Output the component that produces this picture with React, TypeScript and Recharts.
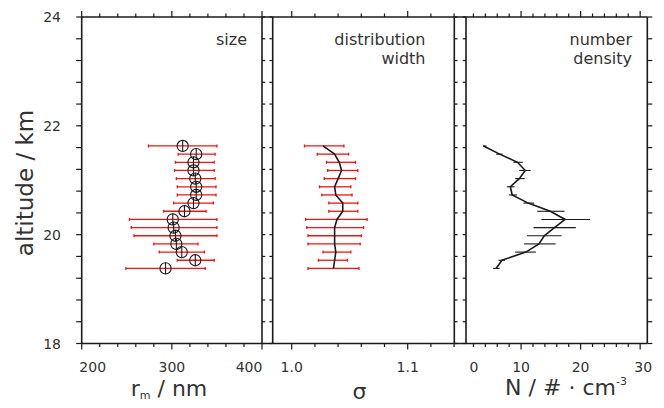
import React from "react";
import { ScatterChart, Scatter, XAxis, YAxis, ErrorBar } from "recharts";

// altitude of each retrieval level (km)
const altitude = [21.63, 21.48, 21.33, 21.18, 21.03, 20.88, 20.73, 20.58, 20.43, 20.28, 20.13, 19.98, 19.83, 19.68, 19.53, 19.38];

// mode radius r_m (nm) with lower / upper bounds
const rm = [312, 327, 324, 324, 326, 327, 327, 324, 314, 301, 302, 304, 305, 311, 326, 293];
const rmLow = [274, 307, 304, 303, 305, 306, 306, 302, 291, 253, 255, 258, 280, 286, 306, 249];
const rmHigh = [350, 348, 347, 347, 348, 349, 349, 346, 338, 350, 350, 350, 329, 336, 347, 337];

// distribution width sigma
const sigma = [1.027, 1.037, 1.041, 1.043, 1.04, 1.037, 1.038, 1.044, 1.044, 1.039, 1.037, 1.037, 1.037, 1.038, 1.037, 1.036];
const sigmaLow = [1.011, 1.022, 1.03, 1.031, 1.028, 1.024, 1.026, 1.032, 1.032, 1.012, 1.013, 1.014, 1.014, 1.027, 1.023, 1.014];
const sigmaHigh = [1.045, 1.049, 1.055, 1.057, 1.055, 1.051, 1.052, 1.057, 1.057, 1.065, 1.062, 1.06, 1.059, 1.051, 1.048, 1.058];

// number density N (# / cm^3)
const density = [3.7, 6.4, 9.4, 10.7, 9.7, 8.2, 8.5, 11.2, 14.9, 17.4, 15.6, 13.9, 13.0, 10.8, 6.8, 5.8];
const densityLow = [3.6, 5.8, 8.7, 9.7, 9.0, 7.6, 8.0, 10.4, 12.7, 13.4, 12.1, 11.0, 10.5, 9.0, 6.2, 5.3];
const densityHigh = [4.2, 6.9, 10.3, 11.6, 10.6, 8.9, 9.3, 12.2, 17.3, 21.6, 19.2, 16.8, 15.8, 12.5, 7.3, 6.4];

// tick values
const altTicks = [18, 18.4, 18.8, 19.2, 19.6, 20, 20.4, 20.8, 21.2, 21.6, 22, 22.4, 22.8, 23.2, 23.6, 24];
const rmTicks = [200, 220, 240, 260, 280, 300, 320, 340, 360, 380, 400];
const rmLabels = [200, 300, 400];
const sigmaTicks = [1.0, 1.02, 1.04, 1.06, 1.08, 1.1, 1.12, 1.14];
const sigmaLabels = [1.0, 1.1];
const densityTicks = [0, 2, 4, 6, 8, 10, 12, 14, 16, 18, 20, 22, 24, 26, 28, 30];
const densityLabels = [0, 10, 20, 30];

const W = 664;
const H = 408;
const TOP = 17;
const BOTTOM = 343.5;
const XH = 30;
const YW = 20;
const INK = "#1a1a1a";
const RED = "#f01414";
const TEXT = "#333";
const FONT = "'DejaVu Sans', sans-serif";

const P1 = { left: 81.7, right: 262, domain: [200, 400] };
const P2 = { left: 272.7, right: 454.3, domain: [0.9836, 1.1402] };
const P3 = { left: 466, right: 647.3, domain: [0.75, 31.2] };

const rowsOf = (v: number[], lo: number[], hi: number[]) =>
  altitude.map((alt, i) => ({ alt, v: v[i], err: [v[i] - lo[i], hi[i] - v[i]] }));

const sizeRows = rowsOf(rm, rmLow, rmHigh);
const sigmaRows = rowsOf(sigma, sigmaLow, sigmaHigh);
const densityRows = rowsOf(density, densityLow, densityHigh);

const near = (a: number, b: number) => Math.abs(a - b) < 1e-6;

function xTick(panel: any, labels: number[], fmt: (v: number) => string, shift: Record<string, number>) {
  return (props: any) => {
    const { x, payload } = props;
    const v = payload.value;
    const inside = x >= panel.left - 0.6 && x <= panel.right + 0.6;
    const major = labels.some((m) => near(m, v));
    const len = major ? 6 : 3.5;
    return (
      <g>
        {inside && <line x1={x} x2={x} y1={BOTTOM} y2={BOTTOM + len} stroke={INK} strokeWidth={1.2} />}
        {inside && <line x1={x} x2={x} y1={TOP} y2={TOP - len} stroke={INK} strokeWidth={1.2} />}
        {major && (
          <text x={x + (shift[String(v)] || 0)} y={372} textAnchor="middle" fontFamily={FONT} fontSize={14} fill={TEXT}>
            {fmt(v)}
          </text>
        )}
      </g>
    );
  };
}

function yTick(panel: any, outL: number, outR: number, labelled: boolean) {
  return (props: any) => {
    const { y, payload } = props;
    const v = payload.value;
    const show = labelled && near(v, Math.round(v)) && Math.round(v) % 2 === 0;
    return (
      <g>
        <line x1={panel.left - outL} x2={panel.left} y1={y} y2={y} stroke={INK} strokeWidth={1.2} />
        <line x1={panel.right} x2={panel.right + outR} y1={y} y2={y} stroke={INK} strokeWidth={1.2} />
        {show && (
          <text x={61} y={y} dy="0.36em" textAnchor="end" fontFamily={FONT} fontSize={14} fill={TEXT}>
            {v}
          </text>
        )}
      </g>
    );
  };
}

const Ring = (props: any) => {
  const { cx, cy } = props;
  const r = 5.6;
  return (
    <g>
      <circle cx={cx} cy={cy} r={r} fill="none" stroke={INK} strokeWidth={1.1} />
      <line x1={cx} x2={cx} y1={cy - r} y2={cy + r} stroke={INK} strokeWidth={1.1} />
    </g>
  );
};

const Nothing = () => <g />;

function margins(panel: any) {
  return { top: TOP, bottom: H - BOTTOM - XH, left: panel.left - YW, right: W - panel.right };
}

const layer: React.CSSProperties = { position: "absolute", left: 0, top: 0 };

function Frame() {
  const s = { stroke: INK, strokeWidth: 1.6 };
  const panels = [P1, P2, P3];
  return (
    <svg width={W} height={H} style={layer}>
      <line x1={P1.left} x2={P3.right} y1={TOP} y2={TOP} {...s} />
      <line x1={P1.left} x2={P3.right} y1={BOTTOM} y2={BOTTOM} {...s} />
      {panels.map((p, i) => (
        <g key={i}>
          <line x1={p.left} x2={p.left} y1={TOP} y2={BOTTOM} {...s} />
          <line x1={p.right} x2={p.right} y1={TOP} y2={BOTTOM} {...s} />
        </g>
      ))}
    </svg>
  );
}

const titleStyle: React.CSSProperties = {
  position: "absolute",
  fontFamily: FONT,
  fontSize: 16,
  lineHeight: "19px",
  color: TEXT,
  textAlign: "right",
  width: 160,
};

const axisTitle: React.CSSProperties = {
  position: "absolute",
  fontFamily: FONT,
  fontSize: 22,
  lineHeight: "26px",
  color: TEXT,
  textAlign: "center",
  width: 180,
  whiteSpace: "nowrap",
};

export default function App() {
  return (
    <div style={{ position: "absolute", left: 0, top: 0, width: W, height: H, background: "#fff", overflow: "hidden" }}>
      <Frame />

      <div style={layer}>
        <ScatterChart width={W} height={H} margin={margins(P1)}>
          <XAxis
            type="number"
            dataKey="v"
            domain={P1.domain}
            ticks={rmTicks}
            interval={0}
            allowDataOverflow
            height={XH}
            axisLine={false}
            tickLine={false}
            tickSize={0}
            tick={xTick(P1, rmLabels, (v) => String(v), { "200": 11, "400": -13 })}
          />
          <YAxis
            type="number"
            dataKey="alt"
            domain={[18, 24]}
            ticks={altTicks}
            interval={0}
            allowDataOverflow
            width={YW}
            axisLine={false}
            tickLine={false}
            tickSize={0}
            tick={yTick(P1, 5.5, 3.3, true)}
          />
          <Scatter data={sizeRows} shape={Ring} isAnimationActive={false}>
            <ErrorBar dataKey="err" direction="x" width={1.5} stroke={RED} strokeWidth={1.3} isAnimationActive={false} />
          </Scatter>
        </ScatterChart>
      </div>

      <div style={layer}>
        <ScatterChart width={W} height={H} margin={margins(P2)}>
          <XAxis
            type="number"
            dataKey="v"
            domain={P2.domain}
            ticks={sigmaTicks}
            interval={0}
            allowDataOverflow
            height={XH}
            axisLine={false}
            tickLine={false}
            tickSize={0}
            tick={xTick(P2, sigmaLabels, (v) => v.toFixed(1), {})}
          />
          <YAxis
            type="number"
            dataKey="alt"
            domain={[18, 24]}
            ticks={altTicks}
            interval={0}
            allowDataOverflow
            width={YW}
            axisLine={false}
            tickLine={false}
            tickSize={0}
            tick={yTick(P2, 3.3, 3.3, false)}
          />
          <Scatter data={sigmaRows} shape={Nothing} isAnimationActive={false}>
            <ErrorBar dataKey="err" direction="x" width={1.5} stroke={RED} strokeWidth={1.3} isAnimationActive={false} />
          </Scatter>
          <Scatter data={sigmaRows} shape={Nothing} line={{ stroke: INK, strokeWidth: 1.6 }} isAnimationActive={false} />
        </ScatterChart>
      </div>

      <div style={layer}>
        <ScatterChart width={W} height={H} margin={margins(P3)}>
          <XAxis
            type="number"
            dataKey="v"
            domain={P3.domain}
            ticks={densityTicks}
            interval={0}
            allowDataOverflow
            height={XH}
            axisLine={false}
            tickLine={false}
            tickSize={0}
            tick={xTick(P3, densityLabels, (v) => String(v), { "0": 12.5, "30": 3 })}
          />
          <YAxis
            type="number"
            dataKey="alt"
            domain={[18, 24]}
            ticks={altTicks}
            interval={0}
            allowDataOverflow
            width={YW}
            axisLine={false}
            tickLine={false}
            tickSize={0}
            tick={yTick(P3, 3.3, 5, false)}
          />
          <Scatter data={densityRows} shape={Nothing} isAnimationActive={false}>
            <ErrorBar dataKey="err" direction="x" width={0} stroke={INK} strokeWidth={1.1} isAnimationActive={false} />
          </Scatter>
          <Scatter data={densityRows} shape={Nothing} line={{ stroke: INK, strokeWidth: 1.6 }} isAnimationActive={false} />
        </ScatterChart>
      </div>

      {/* panel titles */}
      <div style={{ ...titleStyle, left: 247 - 160, top: 30 }}>size</div>
      <div style={{ ...titleStyle, left: 425.5 - 160, top: 30 }}>
        distribution
        <br />
        width
      </div>
      <div style={{ ...titleStyle, left: 632 - 160, top: 30 }}>
        number
        <br />
        density
      </div>

      {/* axis titles */}
      <div
        style={{
          ...axisTitle,
          fontSize: 23,
          lineHeight: "30px",
          width: 220,
          left: 25 - 110,
          top: 183 - 15,
          transform: "rotate(-90deg)",
        }}
      >
        altitude / km
      </div>
      <div style={{ ...axisTitle, left: 169 - 90, top: 389 - 13 }}>
        r<sub style={{ fontSize: 11, lineHeight: 0, verticalAlign: "-3px" }}>m</sub> / nm
      </div>
      <div style={{ ...axisTitle, left: 359.6 - 90, top: 392 - 13 }}>σ</div>
      <div style={{ ...axisTitle, left: 566 - 90, top: 388 - 13 }}>
        N / # · cm<sup style={{ fontSize: 11, lineHeight: 0, verticalAlign: "10px" }}>-3</sup>
      </div>
    </div>
  );
}
